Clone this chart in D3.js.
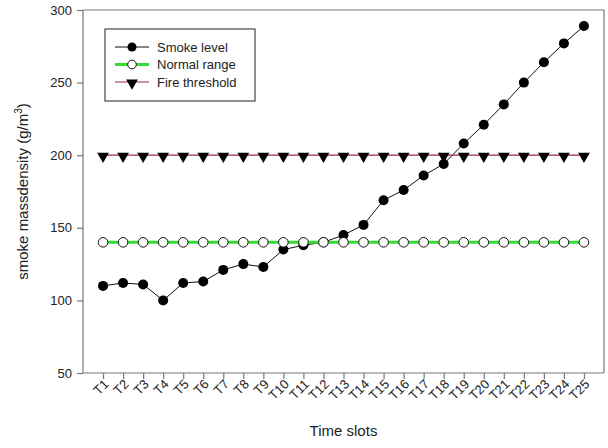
<!DOCTYPE html>
<meta charset="utf-8">
<title>Smoke level</title>
<style>
  body { margin: 0; background: #fff; }
  text { font-family: "Liberation Sans", Arial, sans-serif; fill: #222; }
</style>
<body>
<div id="chart"></div>
<script src="https://cdn.jsdelivr.net/npm/d3@7"></script>
<script>
const slots = ["T1","T2","T3","T4","T5","T6","T7","T8","T9","T10","T11","T12","T13",
               "T14","T15","T16","T17","T18","T19","T20","T21","T22","T23","T24","T25"];
const smoke = [110,112,111,100,112,113,121,125,123,135,138,140,145,152,169,176,186,194,208,221,235,250,264,277,289];
const normal = slots.map(() => 140);
const fire = slots.map(() => 200);
const yTicks = [50,100,150,200,250,300];

const width = 608, height = 448;
const m = {left: 83, right: 4, top: 10, bottom: 75};

const svg = d3.select('#chart').append('svg')
  .attr('width', width).attr('height', height);

const x = d3.scalePoint().domain(slots)
  .range([m.left, width - m.right]).padding(1);
const y = d3.scaleLinear().domain([50, 300])
  .range([height - m.bottom, m.top]);

// frame (top + right)
svg.append('path')
  .attr('d', `M${m.left},${m.top}H${width - m.right}V${height - m.bottom}`)
  .attr('fill', 'none').attr('stroke', '#777').attr('stroke-width', 1.2);

// axes
const yAxis = svg.append('g')
  .attr('transform', `translate(${m.left},0)`)
  .call(d3.axisLeft(y).tickValues(yTicks).tickSize(6).tickPadding(5));
const xAxis = svg.append('g')
  .attr('transform', `translate(0,${height - m.bottom})`)
  .call(d3.axisBottom(x).tickSize(6).tickPadding(4));
[yAxis, xAxis].forEach(g => {
  g.selectAll('path, line').attr('stroke', '#777').attr('stroke-width', 1.2);
  g.selectAll('text').style('font-size', '13px').attr('fill', '#222');
  g.select('.domain').attr('d', g === yAxis
    ? `M0,${m.top}V${height - m.bottom}`
    : `M${m.left},0H${width - m.right}`);
});
xAxis.selectAll('text')
  .attr('text-anchor', 'end')
  .attr('x', 0).attr('y', 0).attr('dy', 0)
  .attr('transform', 'translate(6,12) rotate(-45)');

// axis titles
svg.append('text')
  .attr('transform', `translate(28,${(m.top + height - m.bottom) / 2}) rotate(-90)`)
  .attr('text-anchor', 'middle').style('font-size', '15px')
  .html('smoke massdensity (g/m<tspan dy="-6" font-size="10">3</tspan><tspan dy="6">)</tspan>');
svg.append('text')
  .attr('x', (m.left + width - m.right) / 2).attr('y', 436)
  .attr('text-anchor', 'middle').style('font-size', '15px')
  .text('Time slots');

const line = d3.line().x((d, i) => x(slots[i])).y(d => y(d));
const tri = d3.symbol().type(d3.symbolTriangle).size(60);

// smoke level
svg.append('path').datum(smoke).attr('d', line)
  .attr('fill', 'none').attr('stroke', '#111').attr('stroke-width', 1);
svg.append('g').selectAll('circle').data(smoke).join('circle')
  .attr('cx', (d, i) => x(slots[i])).attr('cy', d => y(d))
  .attr('r', 5).attr('fill', '#000');

// fire threshold
svg.append('path').datum(fire).attr('d', line)
  .attr('fill', 'none').attr('stroke', '#9a2a4a').attr('stroke-width', 1.2);
svg.append('g').selectAll('path').data(fire).join('path')
  .attr('d', tri)
  .attr('transform', (d, i) => `translate(${x(slots[i])},${y(d) + 1}) rotate(180)`)
  .attr('fill', '#000');

// normal range
svg.append('path').datum(normal).attr('d', line)
  .attr('fill', 'none').attr('stroke', '#33dd33').attr('stroke-width', 3);
svg.append('g').selectAll('circle').data(normal).join('circle')
  .attr('cx', (d, i) => x(slots[i])).attr('cy', d => y(d))
  .attr('r', 4.8).attr('fill', '#fff').attr('stroke', '#111').attr('stroke-width', 1);

// legend
const lg = svg.append('g');
lg.append('rect').attr('x', 105).attr('y', 29).attr('width', 150).attr('height', 72)
  .attr('fill', '#fff').attr('stroke', '#444').attr('stroke-width', 1.2);
const items = [
  {label: 'Smoke level', color: '#111', w: 1, mark: 'dot'},
  {label: 'Normal range', color: '#33dd33', w: 3, mark: 'open'},
  {label: 'Fire threshold', color: '#9a2a4a', w: 1.2, mark: 'tri'}
];
items.forEach((it, i) => {
  const yy = 47 + i * 17.5;
  lg.append('line').attr('x1', 115).attr('x2', 149).attr('y1', yy).attr('y2', yy)
    .attr('stroke', it.color).attr('stroke-width', it.w);
  if (it.mark === 'dot') lg.append('circle').attr('cx', 132).attr('cy', yy).attr('r', 4.5).attr('fill', '#000');
  if (it.mark === 'open') lg.append('circle').attr('cx', 132).attr('cy', yy).attr('r', 4.3)
    .attr('fill', '#fff').attr('stroke', '#111');
  if (it.mark === 'tri') lg.append('path').attr('d', tri)
    .attr('transform', `translate(132,${yy + 1}) rotate(180)`).attr('fill', '#000');
  lg.append('text').attr('x', 157).attr('y', yy + 4.5).style('font-size', '13px').text(it.label);
});
</script>
</body>
